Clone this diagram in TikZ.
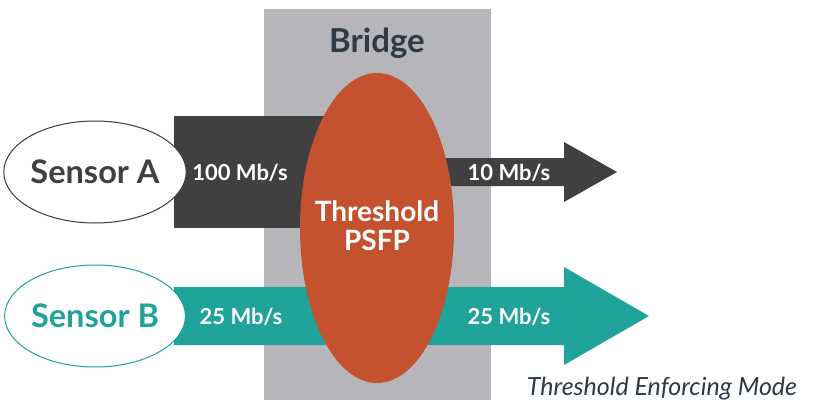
\documentclass[tikz,border=0pt]{standalone}
\usepackage{fontspec}
\setmainfont{Lato}
\usetikzlibrary{shapes.geometric}
\definecolor{darkbar}{HTML}{404040}
\definecolor{tealbar}{HTML}{1FA39B}
\definecolor{psfporange}{HTML}{C4522E}
\definecolor{bridgegray}{HTML}{B6B5BA}
\definecolor{bridgetext}{HTML}{2F3A45}
\tikzset{
  sensor/.style={
    draw,
    ellipse,
    fill=white,
    line width=1pt,
    inner sep=0pt,
    minimum width=164pt,
    minimum height=102pt,
    font=\fontsize{32.5}{32.5}\selectfont\bfseries
  },
  rate/.style={
    text=white,
    inner sep=0pt,
    font=\fontsize{22}{22}\selectfont\bfseries
  }
}

\begin{document}
\begin{tikzpicture}[x=1pt,y=-1pt]
    \useasboundingbox (0,0) rectangle (825,404);
    % bridge box
    \node[fill=bridgegray, inner sep=0pt, anchor=north west,
      minimum width=227pt, minimum height=391pt] (bridge) at (264,9) {};
    \node[text=bridgetext, font=\fontsize{33}{33}\selectfont\bfseries]
      (bridgelabel) at (377,43) {Bridge};
    % flows
    \fill[darkbar] (174,116) rectangle (377,228);
    \fill[darkbar] (377,158) -- (564,158) -- (564,142) -- (617,172)
      -- (564,202) -- (564,186) -- (377,186) -- cycle;
    \fill[tealbar] (174,287) -- (564,287) -- (564,267) -- (649,316)
      -- (564,365) -- (564,345) -- (174,345) -- cycle;
    % filter
    \node[ellipse, fill=psfporange, inner sep=0pt,
      minimum width=154pt, minimum height=310pt] (psfp) at (377,228) {};
    \node[text=white, align=center, font=\fontsize{28}{29}\selectfont\bfseries]
      (psfplabel) at (377,226) {Threshold\\PSFP};
    % sensors
    \node[sensor, draw=darkbar!90!black, text=darkbar] (sensora) at (95,172) {Sensor A};
    \node[sensor, draw=tealbar, text=tealbar] (sensorb) at (95,316) {Sensor B};
    % rates
    \node[rate] (ratein a) at (240,173) {100 Mb/s};
    \node[rate] (rateout a) at (509,173) {10 Mb/s};
    \node[rate] (ratein b) at (241,317) {25 Mb/s};
    \node[rate] (rateout b) at (509,317) {25 Mb/s};
    \node[text=bridgetext, font=\fontsize{25}{25}\selectfont\itshape]
      (mode) at (662,389) {Threshold Enforcing Mode};
\end{tikzpicture}
\end{document}
